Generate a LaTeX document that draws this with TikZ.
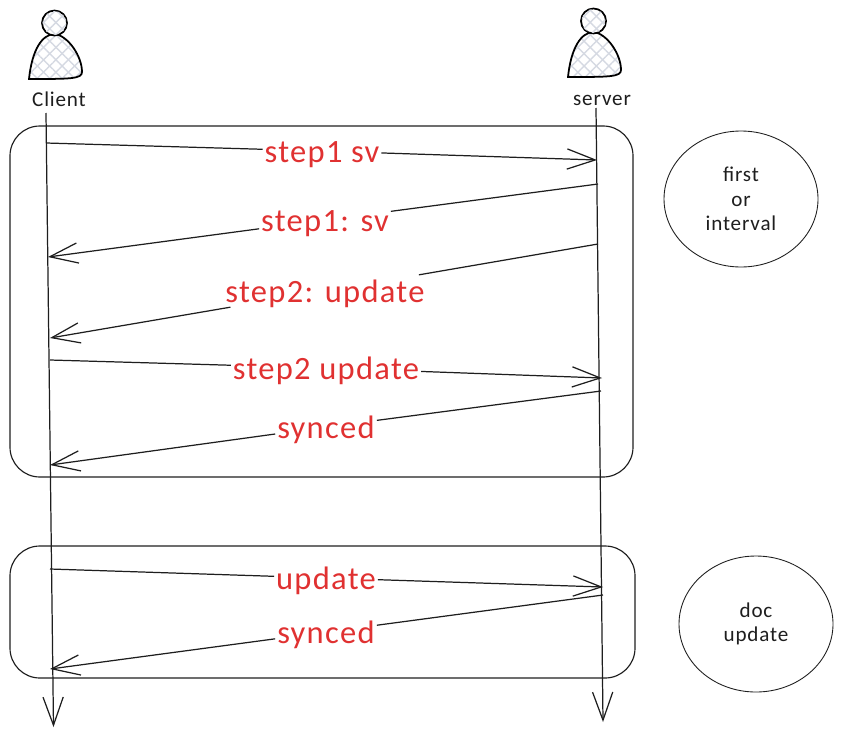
\documentclass[tikz,border=0pt]{standalone}
\usepackage{fontspec}
\usetikzlibrary{arrows.meta,patterns.meta,shapes.geometric}
\newfontfamily\handfont[LetterSpace=4]{Carlito}
\definecolor{inkline}{HTML}{1E1E1E}
\definecolor{hatchline}{HTML}{D5D9E2}
\definecolor{labelred}{HTML}{E03131}
\tikzset{
  flow/.style={color=inkline,line width=0.7pt,-{Straight Barb[length=16pt,width=11.5pt,line width=0.7pt]}},
  flowtail/.style={color=inkline,line width=0.7pt},
  groupbox/.style={color=inkline,line width=0.65pt,rounded corners=17pt},
  actorname/.style={font=\fontsize{12pt}{14pt}\selectfont\handfont,color=inkline},
  msglabel/.style={font=\fontsize{18.5pt}{20pt}\selectfont\handfont,color=labelred,inner sep=1pt,text height=14.5pt,text depth=1.5pt},
  noteoval/.style={ellipse,draw,color=inkline,line width=0.5pt,inner sep=0pt,minimum width=154*0.2mm,minimum height=136*0.2mm,align=center,font=\fontsize{12pt}{14pt}\selectfont\handfont},
}
\newcommand\personshape[2]{
  \path [pattern={Lines[angle=45,distance=5pt,line width=0.8pt]},pattern color=hatchline] (#1+29, #2+79) .. controls (#1+32, #2+50) and (#1+42, #2+34) .. (#1+55, #2+34) .. controls (#1+68, #2+36) and (#1+82, #2+56) .. (#1+82, #2+72) .. controls (#1+82, #2+79) and (#1+70, #2+79) .. cycle;
  \path [pattern={Lines[angle=-45,distance=5pt,line width=0.8pt]},pattern color=hatchline] (#1+29, #2+79) .. controls (#1+32, #2+50) and (#1+42, #2+34) .. (#1+55, #2+34) .. controls (#1+68, #2+36) and (#1+82, #2+56) .. (#1+82, #2+72) .. controls (#1+82, #2+79) and (#1+70, #2+79) .. cycle;
  \draw [color=black,line width=1pt] (#1+29, #2+79) .. controls (#1+32, #2+50) and (#1+42, #2+34) .. (#1+55, #2+34) .. controls (#1+68, #2+36) and (#1+82, #2+56) .. (#1+82, #2+72) .. controls (#1+82, #2+79) and (#1+70, #2+79) .. cycle;
  \filldraw [color=black,line width=1pt,fill=white] (#1+54.5, #2+23) circle (12.5);
  \fill [pattern={Lines[angle=45,distance=5pt,line width=0.8pt]},pattern color=hatchline] (#1+54.5, #2+23) circle (12);
  \fill [pattern={Lines[angle=-45,distance=5pt,line width=0.8pt]},pattern color=hatchline] (#1+54.5, #2+23) circle (12);
}
\begin{document}
\begin{tikzpicture}[x=0.2mm,y=-0.2mm]
\useasboundingbox (0, 0) rectangle (843, 737);

\personshape{0}{0}
\personshape{539}{-2}
\node (clientname) at (59, 99) [actorname] {Client};
\node (servername) at (602, 100) [actorname] {server};

\draw [groupbox] (10, 126) rectangle (633, 477);
\draw [groupbox] (10, 546) rectangle (635, 678);

\node (interval) at (741, 199) [noteoval] {first\\or\\interval};
\node (docupdate) at (756, 624) [noteoval] {doc\\update};

\coordinate (clienttop) at (46, 113);
\coordinate (clientend) at (53.5, 727);
\coordinate (servertop) at (596, 108);
\coordinate (serverend) at (603, 722);
\draw [flow] (clienttop) -- (clientend);
\draw [flow] (servertop) -- (serverend);

\node (svask) at (322, 151) [msglabel] {step1 sv};
\coordinate (svaskfrom) at (46, 143);
\coordinate (svaskto) at (597, 160);
\draw [flowtail] (svaskfrom) -- (svask);
\draw [flow] (svask) -- (svaskto);

\node (svreply) at (325, 220) [msglabel] {step1: sv};
\coordinate (svreplyfrom) at (598, 184);
\coordinate (svreplyto) at (48, 257);
\draw [flowtail] (svreplyfrom) -- (svreply);
\draw [flow] (svreply) -- (svreplyto);

\node (updatereply) at (325, 291) [msglabel] {step2: update};
\coordinate (updatereplyfrom) at (598, 244);
\coordinate (updatereplyto) at (50, 338);
\draw [flowtail] (updatereplyfrom) -- (updatereply);
\draw [flow] (updatereply) -- (updatereplyto);

\node (updateask) at (326, 368) [msglabel] {step2 update};
\coordinate (updateaskfrom) at (50, 360);
\coordinate (updateaskto) at (602, 378);
\draw [flowtail] (updateaskfrom) -- (updateask);
\draw [flow] (updateask) -- (updateaskto);

\node (syncedtop) at (326, 427) [msglabel] {synced};
\coordinate (syncedtopfrom) at (601, 391);
\coordinate (syncedtopto) at (50, 465);
\draw [flowtail] (syncedtopfrom) -- (syncedtop);
\draw [flow] (syncedtop) -- (syncedtopto);

\node (docsend) at (326, 578) [msglabel] {update};
\coordinate (docsendfrom) at (50, 569);
\coordinate (docsendto) at (603, 587);
\draw [flowtail] (docsendfrom) -- (docsend);
\draw [flow] (docsend) -- (docsendto);

\node (syncedlow) at (326, 632) [msglabel] {synced};
\coordinate (syncedlowfrom) at (603, 595);
\coordinate (syncedlowto) at (50, 669);
\draw [flowtail] (syncedlowfrom) -- (syncedlow);
\draw [flow] (syncedlow) -- (syncedlowto);
\end{tikzpicture}
\end{document}
